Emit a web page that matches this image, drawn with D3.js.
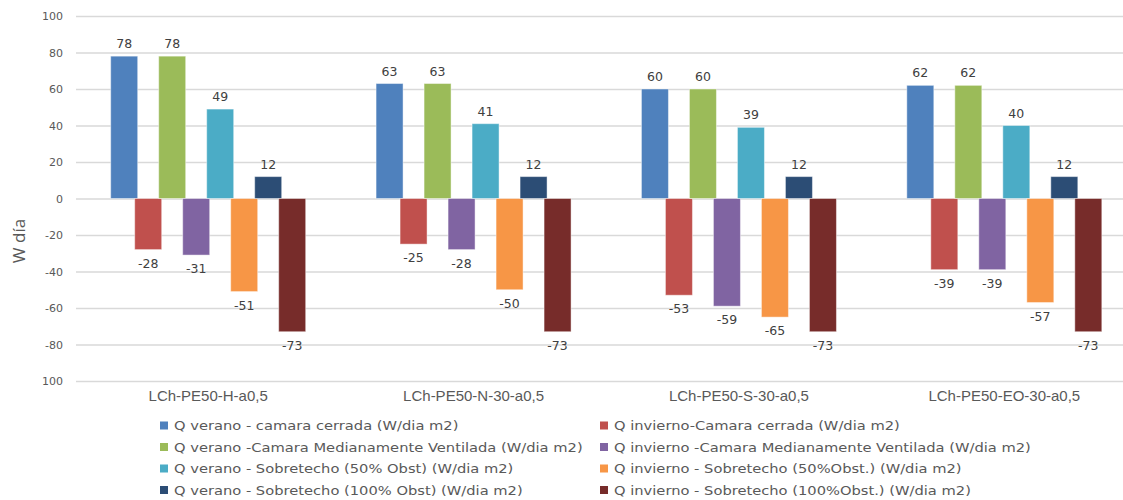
<!DOCTYPE html>
<html>
<head>
<meta charset="utf-8">
<script src="https://cdn.jsdelivr.net/npm/d3@7"></script>
<style>
  html, body { margin: 0; padding: 0; background: #fff; }
  svg { display: block; }
</style>
</head>
<body>
<svg id="chart" width="1123" height="500"></svg>
<script>
const categories = ["LCh-PE50-H-a0,5", "LCh-PE50-N-30-a0,5", "LCh-PE50-S-30-a0,5", "LCh-PE50-EO-30-a0,5"];
const seriesNames = [
  "Q verano - camara cerrada (W/dia m2)",
  "Q invierno-Camara cerrada (W/dia m2)",
  "Q verano -Camara Medianamente Ventilada (W/dia m2)",
  "Q invierno -Camara Medianamente Ventilada (W/dia m2)",
  "Q verano - Sobretecho (50% Obst) (W/dia m2)",
  "Q invierno - Sobretecho (50%Obst.) (W/dia m2)",
  "Q verano - Sobretecho (100% Obst) (W/dia m2)",
  "Q invierno - Sobretecho (100%Obst.) (W/dia m2)"
];
const veranoCerrada   = [78, 63, 60, 62];
const inviernoCerrada = [-28, -25, -53, -39];
const veranoMedVent   = [78, 63, 60, 62];
const inviernoMedVent = [-31, -28, -59, -39];
const veranoSob50     = [49, 41, 39, 40];
const inviernoSob50   = [-51, -50, -65, -57];
const veranoSob100    = [12, 12, 12, 12];
const inviernoSob100  = [-73, -73, -73, -73];
const seriesValues = [veranoCerrada, inviernoCerrada, veranoMedVent, inviernoMedVent,
                      veranoSob50, inviernoSob50, veranoSob100, inviernoSob100];
const colors = ["#4F81BD", "#C0504D", "#9BBB59", "#8064A2", "#4BACC6", "#F79646", "#2C4D75", "#772C2A"];
const tickValues = [100, 80, 60, 40, 20, 0, -20, -40, -60, -80, -100];
const tickLabels = ["100", "80", "60", "40", "20", "0", "-20", "-40", "-60", "-80", "100"];
const yTitle = "W día";

const svg = d3.select("#chart");
const y = d3.scaleLinear().domain([-100, 100]).range([381, 16]);
const x = d3.scaleBand().domain(categories).range([75.5, 1137]).paddingInner(0).paddingOuter(0);
const xs = d3.scaleBand().domain(d3.range(8)).range([-97.5, 94.5]).padding(0); // step 24
const barW = 27;

// gridlines
const yAxis = d3.axisLeft(y).tickValues(tickValues).tickSize(-(1123 - 76))
  .tickFormat((d, i) => tickLabels[i]);
const gy = svg.append("g").attr("transform", "translate(76,0)").call(yAxis);
gy.select(".domain").remove();
gy.selectAll(".tick line").attr("stroke", "#d9d9d9").attr("stroke-width", 1.5);
gy.selectAll(".tick text").attr("x", -13).attr("fill", "#595959")
  .attr("font-family", "DejaVu Sans, sans-serif").attr("font-size", 11);

// bars
const data = [];
seriesValues.forEach((arr, s) => arr.forEach((v, c) => data.push({s, c, v})));
svg.append("g").selectAll("rect").data(data).join("rect")
  .attr("x", d => x(categories[d.c]) + x.bandwidth() / 2 + xs(d.s))
  .attr("width", barW)
  .attr("y", d => y(Math.max(0, d.v)))
  .attr("height", d => Math.abs(y(d.v) - y(0)))
  .attr("fill", d => colors[d.s])
  .attr("stroke", "rgba(255,255,255,0.45)").attr("stroke-width", 1);

// data labels
svg.append("g").selectAll("text").data(data).join("text")
  .attr("x", d => x(categories[d.c]) + x.bandwidth() / 2 + xs(d.s) + barW / 2)
  .attr("y", d => d.v >= 0 ? y(d.v) - 8 : y(d.v) + 18)
  .attr("text-anchor", "middle")
  .attr("font-family", "DejaVu Sans, sans-serif").attr("font-size", 12.5)
  .attr("fill", "#404040")
  .text(d => d.v);

// x labels
svg.append("g").selectAll("text").data(categories).join("text")
  .attr("x", d => x(d) + x.bandwidth() / 2)
  .attr("y", 401)
  .attr("text-anchor", "middle")
  .attr("font-family", "Liberation Sans Narrow, Liberation Sans, sans-serif")
  .attr("font-size", 15).attr("fill", "#595959")
  .text(d => d);

// y title
svg.append("text")
  .attr("transform", "translate(25,241) rotate(-90)")
  .attr("text-anchor", "middle")
  .attr("font-family", "Open Sans, DejaVu Sans, sans-serif")
  .attr("font-size", 17).attr("fill", "#595959")
  .text(yTitle);

// legend
const legendRows = [425.5, 447, 468.5, 490];
const sx = 1.13;
const legend = svg.append("g").selectAll("g").data(seriesNames).join("g")
  .attr("transform", (d, i) => `translate(${i % 2 === 0 ? 160 : 600},${legendRows[Math.floor(i / 2)]})`);
legend.append("rect").attr("x", 0).attr("y", -4).attr("width", 8).attr("height", 8)
  .attr("fill", (d, i) => colors[i]);
legend.append("text").attr("transform", `scale(${sx},1)`).attr("x", 14 / sx).attr("y", 0).attr("dy", "0.35em")
  .attr("font-family", "DejaVu Sans, sans-serif").attr("font-size", 13)
  .attr("fill", "#595959")
  .text(d => d);
</script>
</body>
</html>
